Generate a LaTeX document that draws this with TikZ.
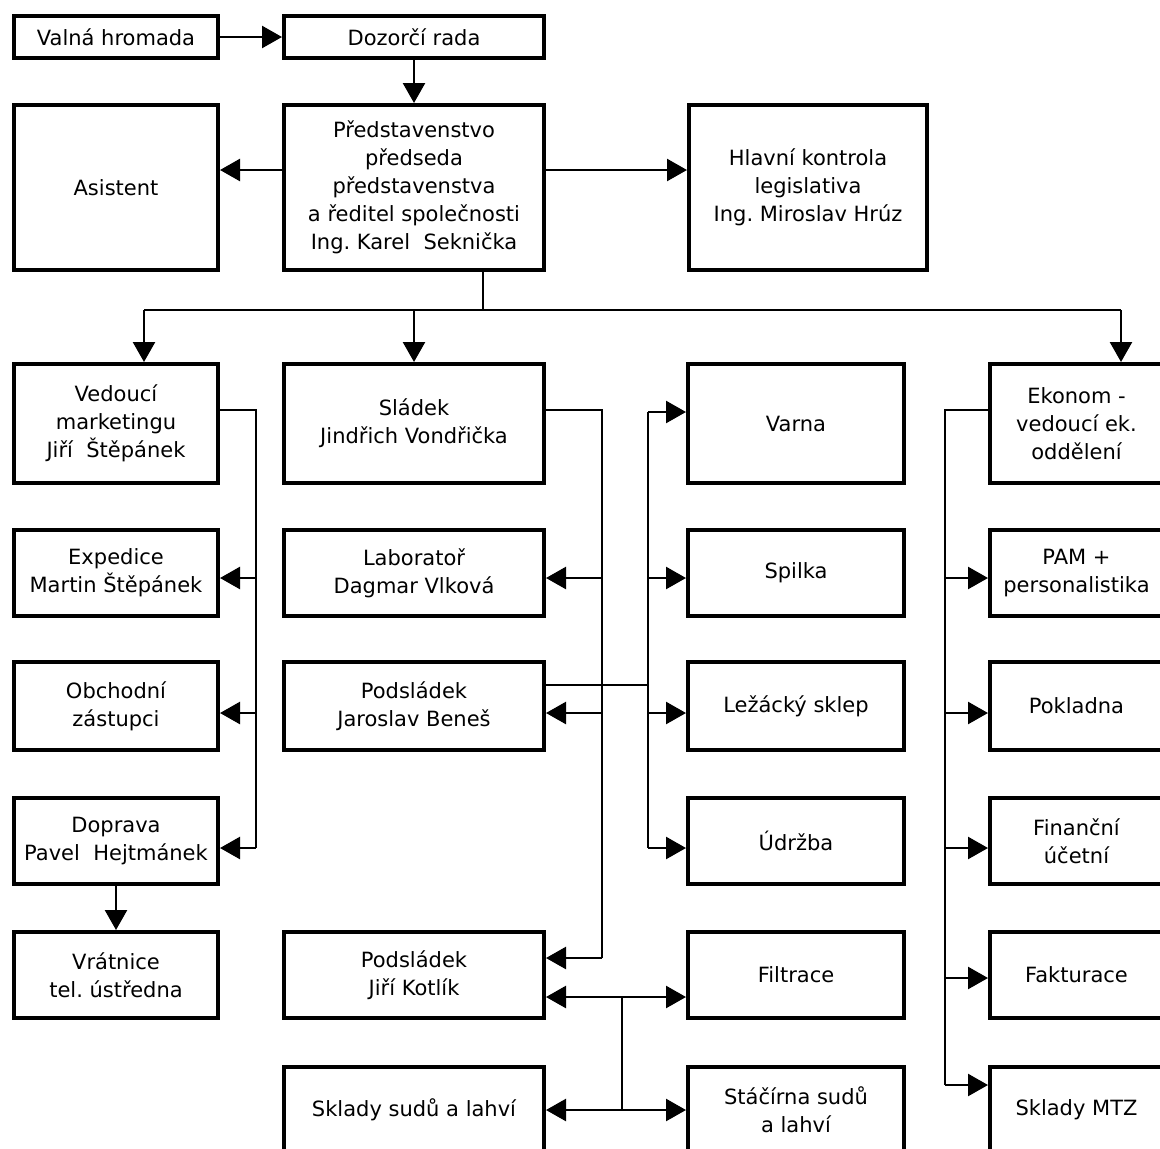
\documentclass[tikz,border=0pt]{standalone}
\usepackage{fontspec}
\setmainfont{DejaVu Sans}
\usetikzlibrary{arrows.meta}
\frenchspacing

\begin{document}
\begin{tikzpicture}[x=1pt, y=-1pt,
  box/.style n args={2}{draw, line width=4pt, fill=white, align=center,
    inner sep=0pt, minimum width=#1, minimum height=#2,
    font=\fontsize{21}{28}\selectfont},
  link/.style={line width=2.5pt},
  linkarr/.style={link, -{Triangle[length=20pt, width=22pt]}},
  linkboth/.style={link, {Triangle[length=20pt, width=22pt]}-{Triangle[length=20pt, width=22pt]}}]
  \useasboundingbox (0,0) rectangle (1160,1149);
  % rows of the arrows
  \coordinate (r2) at (0,412);
  \coordinate (r3) at (0,578);
  \coordinate (r4) at (0,713);
  \coordinate (r5) at (0,848);
  \coordinate (r6a) at (0,958);
  \coordinate (r6b) at (0,997);
  \coordinate (r6c) at (0,978);
  \coordinate (r7) at (0,1110);
  \coordinate (r7c) at (0,1085);
  % vedeni
  \node[box={204pt}{42pt}] (valna) at (116,37) {Valná hromada};
  \node[box={260pt}{42pt}] (dozorci) at (414,37) {Dozorčí rada};
  \node[box={204pt}{165pt}] (asistent) at (116,187.5) {Asistent};
  \node[box={260pt}{165pt}] (predst) at (414,187.5)
    {Představenstvo\\předseda\\představenstva\\a ředitel společnosti\\Ing. Karel\ \ Seknička};
  \node[box={238pt}{165pt}] (kontrola) at (808,187.5)
    {Hlavní kontrola\\legislativa\\Ing. Miroslav Hrúz};
  % prvni sloupec
  \node[box={204pt}{119pt}] (marketing) at (116,423.5) {Vedoucí\\marketingu\\Jiří\ \ Štěpánek};
  \node[box={204pt}{86pt}] (expedice) at (116,573) {Expedice\\Martin Štěpánek};
  \node[box={204pt}{88pt}] (obchodni) at (116,706) {Obchodní\\zástupci};
  \node[box={204pt}{86pt}] (doprava) at (116,841) {Doprava\\Pavel\ \ Hejtmánek};
  \node[box={204pt}{86pt}] (vratnice) at (116,975) {Vrátnice\\tel. ústředna};
  % druhy sloupec
  \node[box={260pt}{119pt}] (sladek) at (414,423.5) {Sládek\\Jindřich Vondřička};
  \node[box={260pt}{86pt}] (laborator) at (414,573) {Laboratoř\\Dagmar Vlková};
  \node[box={260pt}{88pt}] (benes) at (414,706) {Podsládek\\Jaroslav Beneš};
  \node[box={260pt}{86pt}] (kotlik) at (414,975) {Podsládek\\Jiří Kotlík};
  \node[box={260pt}{86pt}] (sklady) at (414,1110) {Sklady sudů a lahví};
  % treti sloupec
  \node[box={216pt}{119pt}] (varna) at (796,423.5) {Varna};
  \node[box={216pt}{86pt}] (spilka) at (796,573) {Spilka};
  \node[box={216pt}{88pt}] (lezak) at (796,706) {Ležácký sklep};
  \node[box={216pt}{86pt}] (udrzba) at (796,841) {Údržba};
  \node[box={216pt}{86pt}] (filtrace) at (796,975) {Filtrace};
  \node[box={216pt}{86pt}] (stacirna) at (796,1110) {Stáčírna sudů\\a lahví};
  % ctvrty sloupec
  \node[box={173pt}{119pt}] (ekonom) at (1076.5,423.5) {Ekonom -\\vedoucí ek.\\oddělení};
  \node[box={173pt}{86pt}] (pam) at (1076.5,573) {PAM +\\personalistika};
  \node[box={173pt}{88pt}] (pokladna) at (1076.5,706) {Pokladna};
  \node[box={173pt}{86pt}] (financni) at (1076.5,841) {Finanční\\účetní};
  \node[box={173pt}{86pt}] (fakturace) at (1076.5,975) {Fakturace};
  \node[box={173pt}{86pt}] (mtz) at (1076.5,1110) {Sklady MTZ};
  % spojnice nahore
  \draw[linkarr] (valna) -- (dozorci);
  \draw[linkarr] (dozorci) -- (predst);
  \coordinate (c1) at (0,170);
  \draw[linkarr] (predst.west |- c1) -- (asistent.east |- c1);
  \draw[linkarr] (predst.east |- c1) -- (kontrola.west |- c1);
  \coordinate (bus) at (483,310);
  \coordinate (busl) at (144,310);
  \coordinate (busr) at (1121,310);
  \draw[link] (bus |- predst.south) -- (bus);
  \draw[link] (busl) -- (busr);
  \draw[linkarr] (busl) -- (busl |- marketing.north);
  \draw[linkarr] (sladek.north |- bus) -- (sladek.north);
  \draw[linkarr] (busr) -- (busr |- ekonom.north);
  % marketing
  \coordinate (mk) at (256,410);
  \draw[link] (marketing.east |- mk) -- (mk) -- (mk |- r5);
  \draw[linkarr] (mk |- r3) -- (expedice.east |- r3);
  \draw[linkarr] (mk |- r4) -- (obchodni.east |- r4);
  \draw[linkarr] (mk |- r5) -- (doprava.east |- r5);
  \draw[linkarr] (doprava) -- (vratnice);
  % sladek
  \coordinate (sl) at (602,410);
  \draw[link] (sladek.east |- sl) -- (sl) -- (sl |- r6a);
  \draw[linkarr] (sl |- r3) -- (laborator.east |- r3);
  \draw[linkarr] (sl |- r4) -- (benes.east |- r4);
  \draw[linkarr] (sl |- r6a) -- (kotlik.east |- r6a);
  % podsladek Benes
  \coordinate (be) at (648,685);
  \draw[link] (benes.east |- be) -- (be);
  \draw[link] (be |- r2) -- (be |- r5);
  \draw[linkarr] (be |- r2) -- (varna.west |- r2);
  \draw[linkarr] (be |- r3) -- (spilka.west |- r3);
  \draw[linkarr] (be |- r4) -- (lezak.west |- r4);
  \draw[linkarr] (be |- r5) -- (udrzba.west |- r5);
  % podsladek Kotlik
  \coordinate (kt) at (622,997);
  \draw[linkboth] (kotlik.east |- kt) -- (filtrace.west |- kt);
  \draw[link, line width=2pt] (kt) -- (kt |- r7);
  \draw[linkboth] (sklady.east |- r7) -- (stacirna.west |- r7);
  % ekonom
  \coordinate (ek) at (945,410);
  \draw[link] (ekonom.west |- ek) -- (ek) -- (ek |- r7c);
  \draw[linkarr] (ek |- r3) -- (pam.west |- r3);
  \draw[linkarr] (ek |- r4) -- (pokladna.west |- r4);
  \draw[linkarr] (ek |- r5) -- (financni.west |- r5);
  \draw[linkarr] (ek |- r6c) -- (fakturace.west |- r6c);
  \draw[linkarr] (ek |- r7c) -- (mtz.west |- r7c);
\end{tikzpicture}
\end{document}
